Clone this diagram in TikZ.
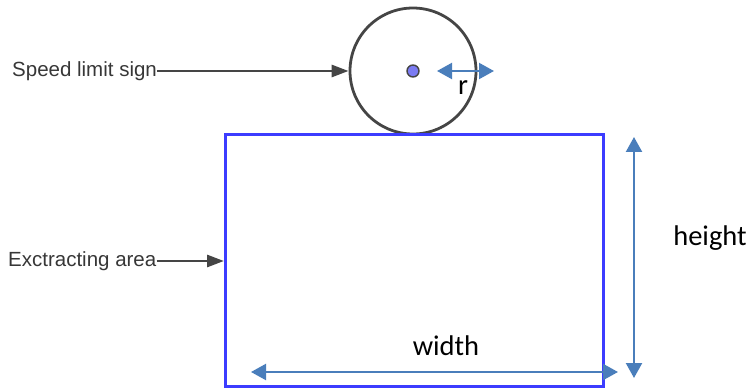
\documentclass[tikz,border=0pt]{standalone}
\usepackage{fontspec}
\setmainfont{Liberation Sans}
\newfontfamily\calib{Carlito}
\usetikzlibrary{arrows.meta}
\definecolor{rectblue}{HTML}{3C3CFF}
\definecolor{dimblue}{HTML}{4A7EBB}
\definecolor{dotblue}{HTML}{7B7BF2}
\definecolor{darkg}{HTML}{454545}
\tikzset{
  lbl/.style={font=\fontsize{20.5}{23}\selectfont, text=darkg!80!black, inner sep=0pt},
  dimlbl/.style={font=\calib\fontsize{28.5}{32}\selectfont, inner sep=0pt},
  pointer/.style={draw=darkg, line width=2.8pt, -{Triangle[length=17pt,width=12pt]}},
  dimarrow/.style={draw=dimblue, line width=2.2pt, {Triangle[length=15pt,width=16pt]}-{Triangle[length=15pt,width=16pt]}}
}
\begin{document}
\begin{tikzpicture}[x=1pt,y=-1pt]
\useasboundingbox (0,0) rectangle (752,390);
% sign circle
\node[circle, draw=darkg, line width=2.8pt, minimum size=126pt, inner sep=0pt] (sign) at (413,71) {};
\node[circle, draw=darkg, fill=dotblue, line width=1.4pt, minimum size=12pt, inner sep=0pt] (dot) at (413,71) {};
% extracting rectangle
\node[draw=rectblue, line width=2.8pt, minimum width=378pt, minimum height=252pt, inner sep=0pt, anchor=north west] (area) at (224,133) {};
% labels
\node[lbl, anchor=west] (tsign) at (12,71) {Speed limit sign};
\node[lbl, anchor=west] (tarea) at (8,261) {Exctracting area};
\draw[pointer] (tsign.east) -- (sign.west);
\draw[pointer] (tarea.east) -- (tarea.east -| area.west);
% r dimension
\coordinate (r1) at (437,71);
\coordinate (r2) at (494,71);
\draw[dimarrow] (r1) -- (r2);
\node[dimlbl] (tr) at (463,88) {r};
% height dimension
\coordinate (h1) at (634,137);
\coordinate (h2) at (634,378);
\draw[dimarrow] (h1) -- (h2);
\node[dimlbl] (th) at (710,238) {height};
% width dimension
\coordinate (w1) at (251,372);
\coordinate (w2) at (618,372);
\draw[dimarrow] (w1) -- (w2);
\node[dimlbl] (tw) at (446,346) {width};
\end{tikzpicture}
\end{document}
